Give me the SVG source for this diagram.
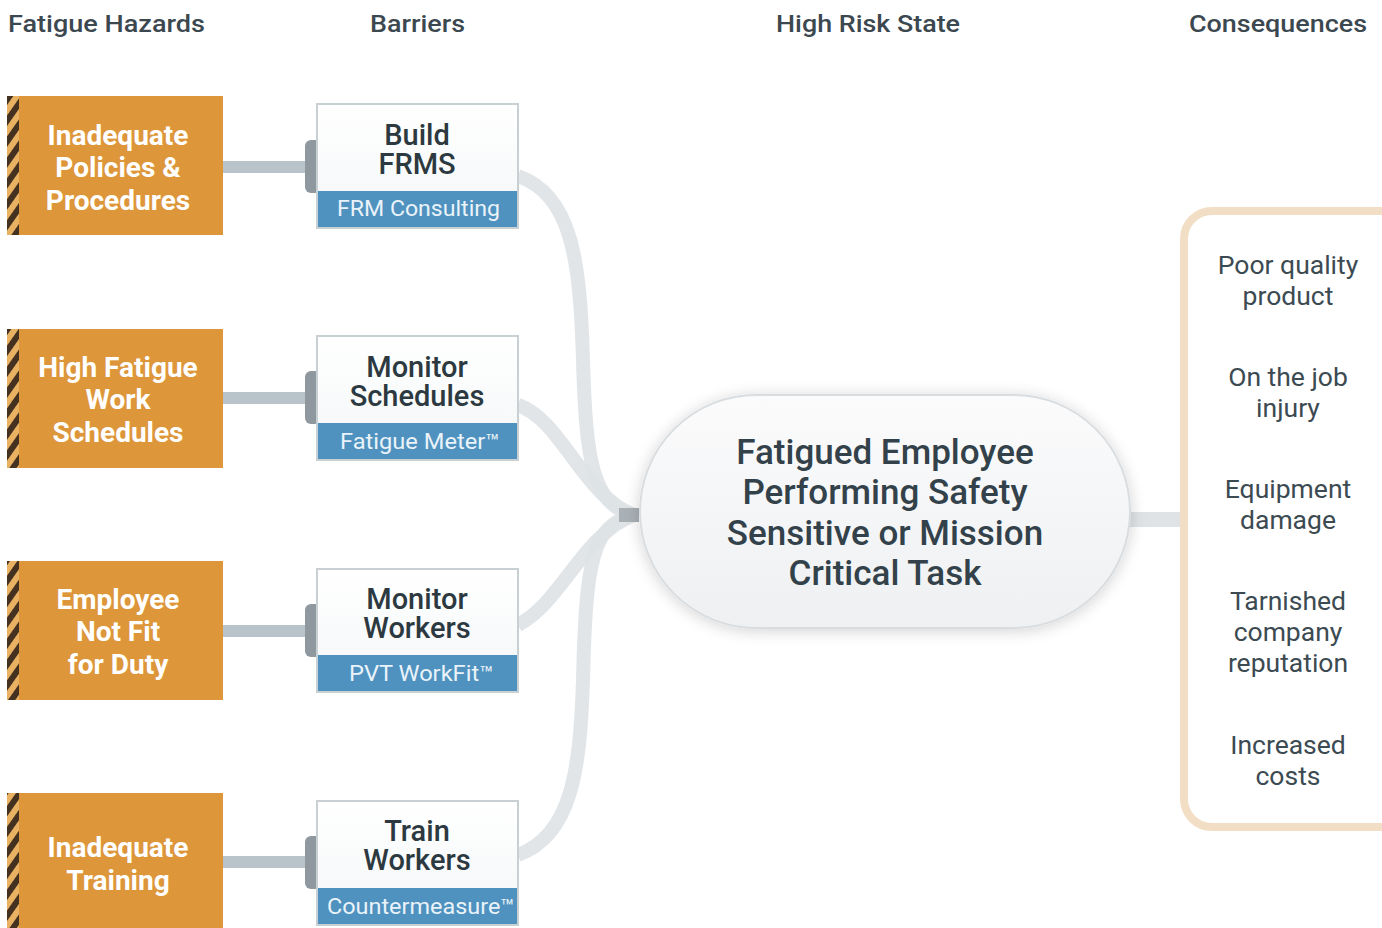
<svg xmlns="http://www.w3.org/2000/svg" width="1382" height="928" viewBox="0 0 1382 928">
<defs>
<pattern id="stripes" patternUnits="userSpaceOnUse" width="12" height="12" patternTransform="rotate(35)">
<rect width="12" height="12" fill="#E9B162"/>
<rect width="6" height="12" fill="#45311F"/>
</pattern>
<linearGradient id="bw" x1="0" y1="0" x2="0" y2="1">
<stop offset="0" stop-color="#FFFFFF"/>
<stop offset="1" stop-color="#F3F6F7"/>
</linearGradient>
<linearGradient id="pill" x1="0" y1="0" x2="0" y2="1">
<stop offset="0" stop-color="#FBFBFC"/>
<stop offset="1" stop-color="#EEF0F1"/>
</linearGradient>
<filter id="sh" x="-20%" y="-30%" width="140%" height="160%">
<feGaussianBlur in="SourceAlpha" stdDeviation="8"/>
<feOffset dy="2"/>
<feComponentTransfer><feFuncA type="linear" slope="0.18"/></feComponentTransfer>
<feMerge><feMergeNode/><feMergeNode in="SourceGraphic"/></feMerge>
</filter>
</defs>
<style>
.hdr{font-family:Roboto,"Liberation Sans",sans-serif;font-weight:500;font-size:24.5px;fill:#3C4850}
.hz{fill:#DD963A}
.hzt{font-family:Roboto,"Liberation Sans",sans-serif;font-weight:700;font-size:28px;fill:#FFFFFF;text-anchor:middle}
.bx{fill:url(#bw);stroke:#C8D0D4;stroke-width:2}
.band{fill:#4F92BF}
.bt{font-family:Roboto,"Liberation Sans",sans-serif;font-weight:500;font-size:29px;fill:#2C3940;text-anchor:middle}
.st{font-family:Roboto,"Liberation Sans",sans-serif;font-size:21.5px;fill:#EAF3F9;text-anchor:middle}
.bar{fill:#B8C4CA}
.cap{fill:#8E989E}
.crv{fill:none;stroke:#DEE2E5;stroke-width:14;opacity:0.9}
.ct{font-family:Roboto,"Liberation Sans",sans-serif;font-weight:500;font-size:35px;fill:#33424A;text-anchor:middle}
.cq{font-family:Roboto,"Liberation Sans",sans-serif;font-size:26.5px;fill:#3C4A52;text-anchor:middle}
</style>
<rect width="1382" height="928" fill="#FFFFFF"/>

<g id="headers">
<text class="hdr" x="8" y="32" textLength="197" lengthAdjust="spacingAndGlyphs">Fatigue Hazards</text>
<text class="hdr" x="370" y="32" textLength="95" lengthAdjust="spacingAndGlyphs">Barriers</text>
<text class="hdr" x="776" y="32" textLength="184" lengthAdjust="spacingAndGlyphs">High Risk State</text>
<text class="hdr" x="1189" y="32" textLength="178" lengthAdjust="spacingAndGlyphs">Consequences</text>
</g>

<g id="connectors">
<rect class="bar" x="223" y="161" width="84" height="12"/>
<rect class="bar" x="223" y="392" width="84" height="12"/>
<rect class="bar" x="223" y="625" width="84" height="12"/>
<rect class="bar" x="223" y="856" width="84" height="12"/>
<path class="crv" d="M518,176 C572,195 580,260 583,360 C586,460 592,505 634,515"/>
<path class="crv" d="M518,405 C562,420 582,495 634,515"/>
<path class="crv" d="M518,625 C562,602 582,535 634,515"/>
<path class="crv" d="M518,855 C572,835 580,770 583,680 C586,560 592,525 634,515"/>
<rect x="619" y="508" width="20" height="14" fill="#A9B1B6"/>
<rect x="1128" y="512" width="54" height="15" fill="#DFE3E6"/>
</g>

<g id="hazard1">
<rect class="hz" x="7" y="96" width="216" height="139"/>
<rect x="7" y="96" width="12" height="139" fill="url(#stripes)"/>
<text class="hzt" x="118" y="145">Inadequate</text>
<text class="hzt" x="118" y="177">Policies &amp;</text>
<text class="hzt" x="118" y="210">Procedures</text>
</g>
<g id="hazard2">
<rect class="hz" x="7" y="329" width="216" height="139"/>
<rect x="7" y="329" width="12" height="139" fill="url(#stripes)"/>
<text class="hzt" x="118" y="377">High Fatigue</text>
<text class="hzt" x="118" y="409">Work</text>
<text class="hzt" x="118" y="442">Schedules</text>
</g>
<g id="hazard3">
<rect class="hz" x="7" y="561" width="216" height="139"/>
<rect x="7" y="561" width="12" height="139" fill="url(#stripes)"/>
<text class="hzt" x="118" y="609">Employee</text>
<text class="hzt" x="118" y="641">Not Fit</text>
<text class="hzt" x="118" y="674">for Duty</text>
</g>
<g id="hazard4">
<rect class="hz" x="7" y="793" width="216" height="140"/>
<rect x="7" y="793" width="12" height="140" fill="url(#stripes)"/>
<text class="hzt" x="118" y="857">Inadequate</text>
<text class="hzt" x="118" y="890">Training</text>
</g>

<g id="barrier1">
<rect class="cap" x="305" y="140" width="16" height="53" rx="6"/>
<rect class="bx" x="317" y="104" width="201" height="124"/>
<rect class="band" x="318" y="191" width="199" height="36"/>
<text class="bt" x="417" y="145">Build</text>
<text class="bt" x="417" y="174">FRMS</text>
<text class="st" x="337" y="216" textLength="163" lengthAdjust="spacingAndGlyphs" style="text-anchor:start">FRM Consulting</text>
</g>
<g id="barrier2">
<rect class="cap" x="305" y="371" width="16" height="53" rx="6"/>
<rect class="bx" x="317" y="336" width="201" height="124"/>
<rect class="band" x="318" y="423" width="199" height="36"/>
<text class="bt" x="417" y="377">Monitor</text>
<text class="bt" x="417" y="406">Schedules</text>
<text class="st" x="340" y="449" textLength="160" lengthAdjust="spacingAndGlyphs" style="text-anchor:start">Fatigue Meter™</text>
</g>
<g id="barrier3">
<rect class="cap" x="305" y="604" width="16" height="53" rx="6"/>
<rect class="bx" x="317" y="569" width="201" height="123"/>
<rect class="band" x="318" y="655" width="199" height="36"/>
<text class="bt" x="417" y="609">Monitor</text>
<text class="bt" x="417" y="638">Workers</text>
<text class="st" x="349" y="681" textLength="145" lengthAdjust="spacingAndGlyphs" style="text-anchor:start">PVT WorkFit™</text>
</g>
<g id="barrier4">
<rect class="cap" x="305" y="836" width="16" height="53" rx="6"/>
<rect class="bx" x="317" y="801" width="201" height="124"/>
<rect class="band" x="318" y="888" width="199" height="36"/>
<text class="bt" x="417" y="841">Train</text>
<text class="bt" x="417" y="870">Workers</text>
<text class="st" x="327" y="914" textLength="188" lengthAdjust="spacingAndGlyphs" style="text-anchor:start">Countermeasure™</text>
</g>

<g id="highrisk">
<rect x="640" y="395" width="490" height="233" rx="116.5" fill="url(#pill)" stroke="#D9DDE0" stroke-width="2" filter="url(#sh)"/>
<text class="ct" x="885" y="464">Fatigued Employee</text>
<text class="ct" x="885" y="504">Performing Safety</text>
<text class="ct" x="885" y="545">Sensitive or Mission</text>
<text class="ct" x="885" y="585">Critical Task</text>
</g>

<g id="consequences">
<rect x="1184" y="211" width="260" height="616" rx="28" fill="#FFFFFF" stroke="#F2DEC4" stroke-width="8"/>
<text class="cq" x="1288" y="274">Poor quality</text>
<text class="cq" x="1288" y="305">product</text>
<text class="cq" x="1288" y="386">On the job</text>
<text class="cq" x="1288" y="417">injury</text>
<text class="cq" x="1288" y="498">Equipment</text>
<text class="cq" x="1288" y="529">damage</text>
<text class="cq" x="1288" y="610">Tarnished</text>
<text class="cq" x="1288" y="641">company</text>
<text class="cq" x="1288" y="672">reputation</text>
<text class="cq" x="1288" y="754">Increased</text>
<text class="cq" x="1288" y="785">costs</text>
</g>
</svg>
